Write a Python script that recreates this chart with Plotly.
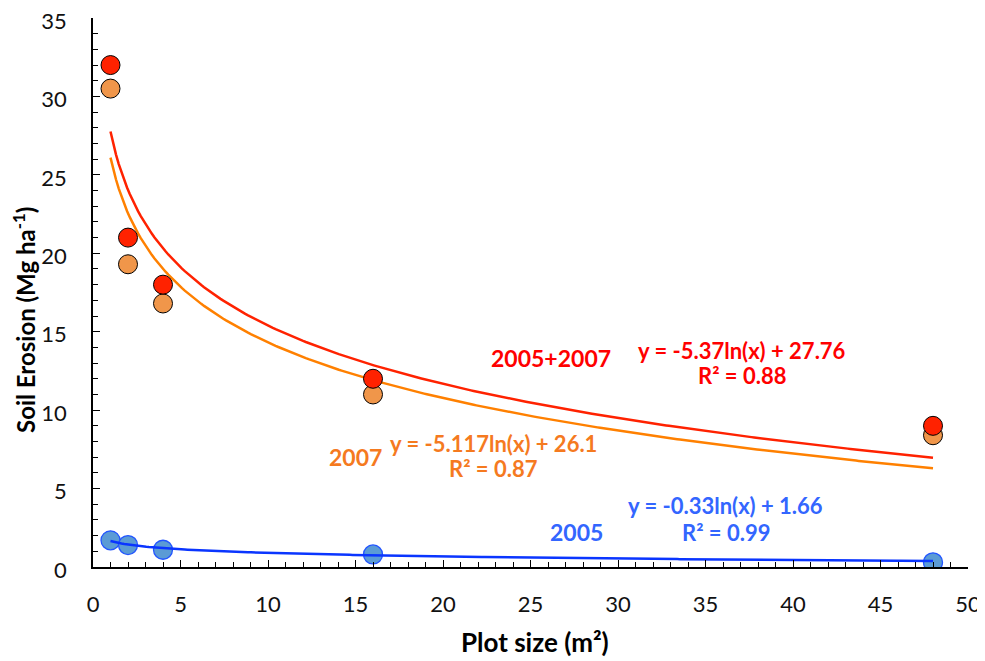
import numpy as np
import plotly.graph_objects as go

# ---- data ----
plot_size = [1, 2, 4, 16, 48]
erosion_2005_2007 = [32.0, 21.0, 18.0, 12.0, 9.0]
erosion_2007 = [30.5, 19.3, 16.8, 11.0, 8.4]
erosion_2005 = [1.7, 1.4, 1.1, 0.8, 0.3]

# logarithmic trend coefficients shown on the chart: y = a*ln(x) + b
trend_a = {"2005+2007": -5.37, "2007": -5.117, "2005": -0.33}
trend_b = {"2005+2007": 27.76, "2007": 26.1, "2005": 1.66}
trend_r2 = {"2005+2007": "0.88", "2007": "0.87", "2005": "0.99"}

FONT = "Lato"
RED = "#FF2200"
ORANGE_LINE = "#FF8000"
ORANGE_FILL = "#F0964A"
BLUE_LINE = "#0A35FF"
BLUE_FILL = "#5B9BD5"

# page body adds an 8px offset; plot area target in window pixels
PAGE_OFF = 8
L, R, T, B = 93, 968, 18, 567
W, H = 985 - PAGE_OFF, 661 - PAGE_OFF
PW, PH = R - L, B - T

xs = np.linspace(min(plot_size), max(plot_size), 300)

def trend(key):
    return trend_a[key] * np.log(xs) + trend_b[key]

fig = go.Figure()

# trend lines
fig.add_trace(go.Scatter(x=xs, y=trend("2007"), mode="lines",
                         line=dict(color=ORANGE_LINE, width=2.5), showlegend=False))
fig.add_trace(go.Scatter(x=xs, y=trend("2005+2007"), mode="lines",
                         line=dict(color=RED, width=2.5), showlegend=False))

# markers
fig.add_trace(go.Scatter(x=plot_size, y=erosion_2007, mode="markers",
                         marker=dict(size=19, color=ORANGE_FILL, line=dict(color="#000000", width=1)),
                         showlegend=False))
fig.add_trace(go.Scatter(x=plot_size, y=erosion_2005_2007, mode="markers",
                         marker=dict(size=19, color=RED, line=dict(color="#000000", width=1)),
                         showlegend=False))
fig.add_trace(go.Scatter(x=plot_size, y=erosion_2005, mode="markers",
                         marker=dict(size=19, color=BLUE_FILL, line=dict(color="#2255FF", width=1.3)),
                         showlegend=False))
fig.add_trace(go.Scatter(x=xs, y=trend("2005"), mode="lines",
                         line=dict(color=BLUE_LINE, width=2.5), showlegend=False))

annotations = []
def ann(x, y, text, color, size):
    annotations.append(dict(x=x, y=y, xref="x", yref="y", text=text, showarrow=False,
                            font=dict(family=FONT, size=size, color=color),
                            xanchor="center", yanchor="middle"))

# series labels
ann(26.17, 13.3, "<b>2005+2007</b>", "#FF0000", 23)
ann(15.0, 7.0, "<b>2007</b>", "#F57A1F", 23)
ann(27.6, 2.2, "<b>2005</b>", "#3366FF", 23)

# equations
ann(37.09, 13.81, "<b>y = %gln(x) + %g</b>" % (trend_a["2005+2007"], trend_b["2005+2007"]), "#FF0000", 22)
ann(37.09, 12.22, "<b>R² = %s</b>" % trend_r2["2005+2007"], "#FF0000", 22)
ann(22.86, 7.88, "<b>y = %gln(x) + %g</b>" % (trend_a["2007"], trend_b["2007"]), "#F57A1F", 22)
ann(22.86, 6.3, "<b>R² = %s</b>" % trend_r2["2007"], "#F57A1F", 22)
ann(36.17, 3.93, "<b>y = %gln(x) + %g</b>" % (trend_a["2005"], trend_b["2005"]), "#3366FF", 22)
ann(36.17, 2.2, "<b>R² = %s</b>" % trend_r2["2005"], "#3366FF", 22)

# axis titles placed as annotations (paper coords are relative to plot area)
annotations.append(dict(x=(24 - L) / PW, y=(B - 320) / PH, xref="paper", yref="paper",
                        text="<b>Soil Erosion (Mg ha<sup>-1</sup>)</b>", showarrow=False,
                        textangle=-90, font=dict(family=FONT, size=24, color="#000000"),
                        xanchor="center", yanchor="middle"))
annotations.append(dict(x=(534.5 - L) / PW, y=(B - 642) / PH, xref="paper", yref="paper",
                        text="<b>Plot size (m²)</b>", showarrow=False,
                        font=dict(family=FONT, size=26, color="#000000"),
                        xanchor="center", yanchor="middle"))

fig.update_layout(
    width=W, height=H,
    margin=dict(l=L - PAGE_OFF, r=985 - R, t=T - PAGE_OFF, b=661 - B, autoexpand=False),
    paper_bgcolor="white", plot_bgcolor="white",
    font=dict(family=FONT, color="#000000"),
    annotations=annotations,
)

fig.update_xaxes(
    range=[0, 50], tick0=0, dtick=5, automargin=False,
    showline=True, linecolor="#000000", linewidth=1.5,
    ticks="inside", ticklen=7, tickwidth=1.3, tickcolor="#000000",
    minor=dict(dtick=1, ticks="inside", ticklen=5, tickcolor="#000000", tickwidth=1),
    showgrid=False, zeroline=False, ticklabelstandoff=17, ticklabeloverflow="allow",
    tickfont=dict(size=22, family=FONT, color="#111111"),
)
fig.update_yaxes(
    range=[0, 35], tick0=0, dtick=5, automargin=False,
    showline=True, linecolor="#000000", linewidth=1.5,
    ticks="inside", ticklen=7, tickwidth=1.3, tickcolor="#000000",
    minor=dict(dtick=1, ticks="inside", ticklen=5, tickcolor="#000000", tickwidth=1),
    showgrid=False, zeroline=False, ticklabelstandoff=20, ticklabeloverflow="allow",
    ticklabelshift=3,
    tickfont=dict(size=22, family=FONT, color="#111111"),
)

fig.write_html("out.html")
